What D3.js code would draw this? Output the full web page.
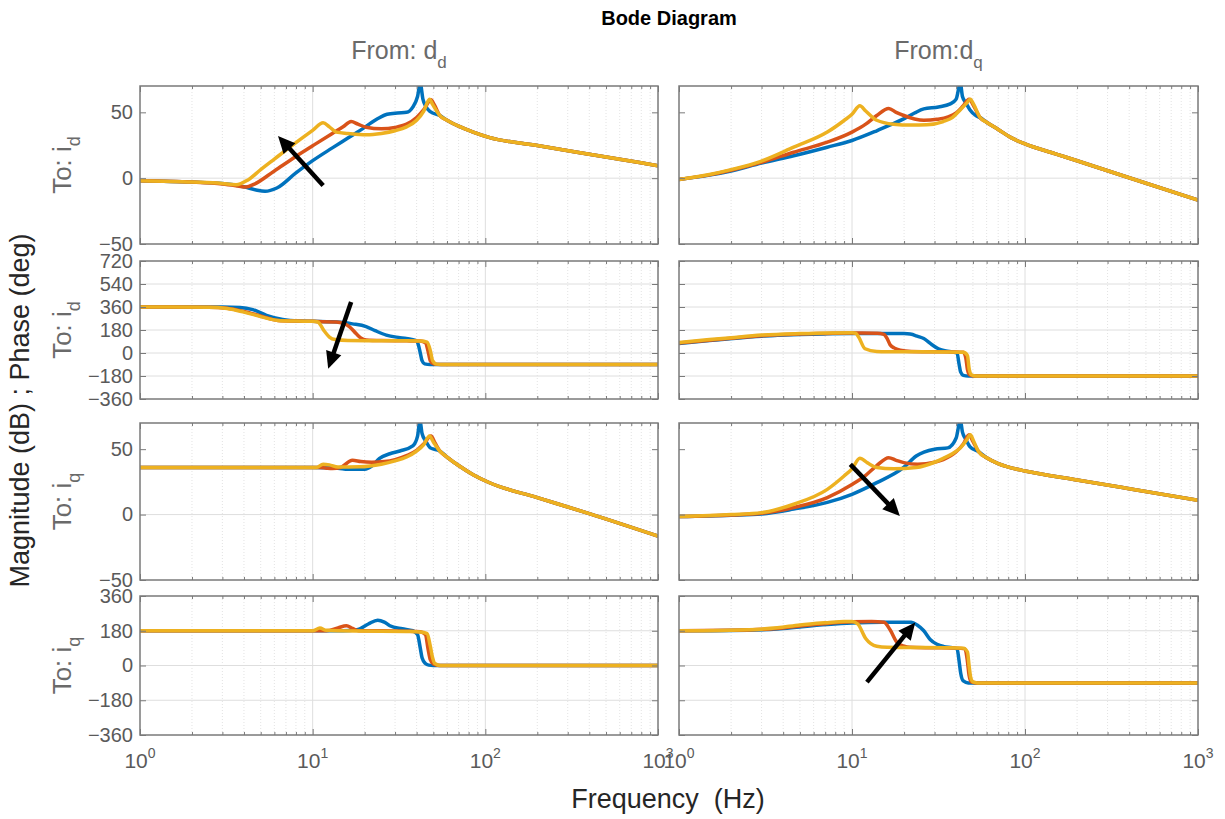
<!DOCTYPE html>
<html>
<head>
<meta charset="utf-8">
<script src="https://cdn.jsdelivr.net/npm/d3@7"></script>
<style>
  body { margin: 0; background: #fff; }
  text { font-family: "Liberation Sans", Arial, Helvetica, sans-serif; }
</style>
</head>
<body>
<div id="vis"></div>
<script>
// ---- data (frequency in Hz, magnitude in dB, phase in deg) ----
const seriesColors = ["#0072BD", "#D95319", "#EDB120"];
const freqTicks = [1, 10, 100, 1000];
const freqTickExp = ["0", "1", "2", "3"];
const magTicks = [-50, 0, 50];
const phaseTicksD = [-360, -180, 0, 180, 360, 540, 720];
const phaseTicksQ = [-360, -180, 0, 180, 360];
const colInputs = ["d", "q"];
const colTitles = ["From: d", "From:d"];
const rowTitles = ["To: i", "To: i", "To: i", "To: i"];
const rowSubs = ["d", "d", "q", "q"];

// From d_d -> i_d magnitude
const magIdDdBlue = [[1,-2],[2,-3],[3,-4],[4,-6.5],[4.7,-9],[5.3,-10],[6.2,-7.5],[8,4],[10,13.3],[13,23],[16,30.5],[20,38.6],[24,45.5],[27,48.5],[31,49.5],[35,50],[38,54],[40.5,62],[42,72],[43.5,60],[45,55],[48,50.5],[54.5,47.6],[60,44],[70,39.5],[85,35],[105,31],[200,24.8],[400,18.2],[1000,9.5]];
const magIdDdOrange = [[1,-2],[2,-3],[3,-4.5],[3.7,-6],[4.1,-6.8],[4.6,-4.5],[6,5.5],[8,16.5],[10,24.6],[13,34],[15,39],[16.7,43],[18.3,41],[20.4,38.7],[25,37.5],[30,38.5],[35,41],[40,46],[44,52],[48.5,59.5],[50.5,56],[54.5,47.6],[60,44],[70,39.5],[85,35],[105,31],[200,24.8],[400,18.2],[1000,9.5]];
const magIdDdYellow = [[1,-2],[2,-3],[3,-4],[3.6,-5],[4.2,-1.5],[5,6.5],[6,14.5],[8,27],[10,36.3],[11.5,42],[12.5,39],[13.7,35],[16,34],[20.4,33],[25,34],[30,36],[35,39],[40,44],[44,51],[47.5,60],[49.5,56],[54.5,47.6],[60,44],[70,39.5],[85,35],[105,31],[200,24.8],[400,18.2],[1000,9.5]];

// From d_d -> i_d phase
const phIdDdBlue = [[1,360],[3,360],[3.8,357],[4.5,340],[5.4,295],[6.7,262],[8.4,250],[10,248],[13,245],[15,238],[17,228],[20.4,207],[23,175],[26.7,140],[32,120],[38,105],[40,95],[41,60],[42,0],[43,-60],[44.5,-85],[48,-90],[1000,-90]];
const phIdDdOrange = [[1,360],[2.5,358],[3.2,350],[4,325],[5,290],[6.3,255],[8,250],[10,248],[13.7,242],[15,232],[16.3,207],[17.9,150],[19,118],[20.4,102],[25,97],[35,95],[42,93],[45,80],[46.5,20],[48,-60],[50,-85],[55,-90],[1000,-90]];
const phIdDdYellow = [[1,360],[2.5,358],[3.2,348],[4,320],[5,285],[6.3,255],[8,250],[10,248],[10.7,243],[11.7,170],[12.5,125],[13.5,105],[16,98],[25,96],[35,95],[42,93],[46,85],[48,20],[49.5,-60],[52,-87],[56,-90],[1000,-90]];

// From d_d -> i_q magnitude
const magIqDdBlue = [[1,36],[10,36],[14,35.5],[16,34.6],[20,34.6],[22,37],[24.4,43],[28,46.5],[32,48.6],[38,52.5],[40.5,60],[41.8,72],[43,62],[45.3,56],[48,51],[54.5,48.6],[60,44],[70,37.5],[85,30.5],[105,24.5],[200,13],[400,0.7],[1000,-16.5]];
const magIqDdOrange = [[1,36],[11,36],[12,35.5],[13,35.2],[14.5,36],[17,41.5],[19,40.5],[22,40],[26,40.5],[30,42],[35,45],[40,49],[44,54],[48.5,60],[51,55],[54.5,48.6],[60,44],[70,37.5],[85,30.5],[105,24.5],[200,13],[400,0.7],[1000,-16.5]];
const magIqDdYellow = [[1,36],[10.5,36],[11.5,38.5],[12.5,38],[14,36.3],[18.7,36.5],[25,38.5],[30,41],[35,44],[40,48.5],[44,53.5],[47.5,60],[50,55.5],[54.5,48.6],[60,44],[70,37.5],[85,30.5],[105,24.5],[200,13],[400,0.7],[1000,-16.5]];

// From d_d -> i_q phase
const phIqDdBlue = [[1,180],[15,180],[18,185],[21,215],[23.8,235],[26,225],[28,206],[33,190],[38,180],[40.5,160],[42,90],[43,40],[45,10],[47,2],[50,0],[1000,0]];
const phIqDdOrange = [[1,180],[12,180],[14,195],[15.7,206],[17,192],[18.5,180],[25,180],[35,178],[42,175],[45,160],[46.5,90],[48,30],[50,8],[54,0],[1000,0]];
const phIqDdYellow = [[1,180],[10,180],[11,194],[12,182],[14,180],[25,178],[35,176],[42,174],[46,165],[48,100],[49.5,40],[51,10],[55,0],[1000,0]];

// From d_q -> i_d magnitude
const magIdDqBlue = [[1,-1],[1.5,2.3],[2,5.5],[3,11.5],[4.6,17],[7.2,23.5],[10,28.6],[13.9,36],[17,41],[19.9,45],[23,49.5],[26,52.6],[31.6,54],[37,56.4],[40,60],[42.3,72],[43.5,62],[45.3,57.7],[48,52],[52,47.5],[55,46],[60,42.5],[70,37],[82.5,31],[100,26],[150,18.5],[200,13.2],[400,0.3],[1000,-16.6]];
const magIdDqOrange = [[1,-1],[1.5,2.5],[2,6],[3,12],[4.6,19.7],[7.2,27.3],[10,35],[12,41],[13.9,47.6],[16.3,53],[18,50],[19.9,47.6],[23,45],[26,44],[31,44.7],[36,46.5],[40,49.5],[44,55],[47.5,60],[50,56],[55,46],[60,42.5],[70,37],[82.5,31],[100,26],[150,18.5],[200,13.2],[400,0.3],[1000,-16.6]];
const magIdDqYellow = [[1,-1],[1.5,2.8],[2,6.5],[3,13],[4.6,23.5],[7.2,35],[9,43.8],[10,48.5],[11.1,55],[12,51],[13.9,44],[17.4,41],[22,40.3],[27,40.5],[33.7,43],[38,46],[42.3,52],[46,57],[48.3,60],[50.5,56],[55,46],[60,42.5],[70,37],[82.5,31],[100,26],[150,18.5],[200,13.2],[400,0.3],[1000,-16.6]];

// From d_q -> i_d phase
const phIdDqBlue = [[1,75],[1.5,97],[1.9,110],[3,132],[3.7,138],[5,145],[7.2,150],[10,152],[15,153],[20,152],[21.7,148],[24,130],[26,113],[29,65],[31.6,33],[35,15],[38,8],[40.5,0],[41.5,-80],[42.5,-150],[44,-175],[47,-180],[1000,-180]];
const phIdDqOrange = [[1,78],[1.5,100],[2,115],[3,135],[5,148],[7.2,153],[10,156],[14,155],[15.3,145],[16,110],[16.6,65],[17.5,40],[19,22],[22,12],[30,10],[40,8],[44,5],[45.5,-40],[46.5,-130],[48,-172],[51,-180],[1000,-180]];
const phIdDqYellow = [[1,82],[1.5,105],[2,120],[3,140],[5,152],[7.2,157],[10,158],[10.5,155],[10.9,127],[11.9,33],[13.9,12],[16,10],[25,9],[35,8],[44,6],[46.5,-20],[47.5,-120],[49,-170],[52,-180],[1000,-180]];

// From d_q -> i_q magnitude
const magIqDqBlue = [[1,-1.5],[2,-0.5],[3,0.5],[4.6,4.2],[7.2,9.3],[10,15.5],[13.9,24.4],[19.9,36],[23.5,44.8],[30,50],[35.8,51],[40,58.5],[42.3,72],[43.5,63],[45.3,58],[48,52],[54,48],[60,43.5],[70,39],[90,34.6],[100,33.3],[200,26.5],[400,19.8],[1000,11]];
const magIqDqOrange = [[1,-1.5],[2,-0.3],[3,1],[4.6,5.4],[7.2,13],[10,23],[12,30],[13.9,37.4],[16.3,43.5],[18,41.5],[19.9,39.7],[24,38.5],[30,40],[33.7,42],[40,48],[44,54],[47.5,61],[50,56],[54,48],[60,43.5],[70,39],[90,34.6],[100,33.3],[200,26.5],[400,19.8],[1000,11]];
const magIqDqYellow = [[1,-1.5],[2,0],[3,1.5],[4.6,7.9],[7.2,19.3],[9,29.5],[10,35],[11.1,43],[12.3,39.5],[13.9,36],[17.4,35],[23.5,36],[30,40],[33.7,43],[38,46.5],[42.3,51],[46,57],[48.3,61],[50.5,56],[54,48],[60,43.5],[70,39],[90,34.6],[100,33.3],[200,26.5],[400,19.8],[1000,11]];

// From d_q -> i_q phase
const phIqDqBlue = [[1,180],[2,181],[3.7,189],[5,200],[7.2,212],[10,220],[15,224],[22,224],[23.8,210],[26,180],[28.3,135],[31,110],[34,98],[38,92],[40.5,86],[41.5,30],[42.5,-40],[44,-80],[47,-90],[1000,-90]];
const phIqDqOrange = [[1,180],[2,182],[3.7,192],[5,205],[7.2,218],[10,226],[13,228],[15.3,224],[16.6,185],[18.2,120],[20,100],[21.6,94],[30,92],[40,90],[45,86],[46.5,20],[47.5,-50],[49,-85],[52,-90],[1000,-90]];
const phIqDqYellow = [[1,180],[2,183],[3.7,195],[5,210],[7.2,222],[9,228],[10,228],[10.8,215],[12,140],[13.9,100],[16,95],[25,93],[35,92],[44,90],[46.5,70],[47.5,0],[48.5,-60],[50,-85],[53,-90],[1000,-90]];

// annotation arrows: [tail, head] in data coordinates
const arrowMagIdDd = [[11.5, -5.5], [6.3, 32]];
const arrowPhIdDd = [[16.7, 399], [12.3, -123]];
const arrowMagIqDq = [[9.78, 38.4], [18.9, -1]];
const arrowPhIqDq = [[12.2, -86], [23.2, 223]];

// ---- layout ----
const width = 1225, height = 819;
const cols = [{ x0: 140, x1: 658 }, { x0: 679, x1: 1198 }];
const rows = [{ y0: 86, y1: 244 }, { y0: 261, y1: 399 }, { y0: 423, y1: 580 }, { y0: 596, y1: 735 }];

const panels = [
  { col: 0, row: 0, domain: [-50, 70], ticks: magTicks, series: [magIdDdBlue, magIdDdOrange, magIdDdYellow], arrow: arrowMagIdDd },
  { col: 0, row: 1, domain: [-360, 720], ticks: phaseTicksD, series: [phIdDdBlue, phIdDdOrange, phIdDdYellow], arrow: arrowPhIdDd },
  { col: 0, row: 2, domain: [-50, 70], ticks: magTicks, series: [magIqDdBlue, magIqDdOrange, magIqDdYellow] },
  { col: 0, row: 3, domain: [-360, 360], ticks: phaseTicksQ, series: [phIqDdBlue, phIqDdOrange, phIqDdYellow] },
  { col: 1, row: 0, domain: [-50, 70], ticks: magTicks, series: [magIdDqBlue, magIdDqOrange, magIdDqYellow] },
  { col: 1, row: 1, domain: [-360, 720], ticks: phaseTicksD, series: [phIdDqBlue, phIdDqOrange, phIdDqYellow] },
  { col: 1, row: 2, domain: [-50, 70], ticks: magTicks, series: [magIqDqBlue, magIqDqOrange, magIqDqYellow], arrow: arrowMagIqDq },
  { col: 1, row: 3, domain: [-360, 360], ticks: phaseTicksQ, series: [phIqDqBlue, phIqDqOrange, phIqDqYellow], arrow: arrowPhIqDq }
];

const minorFreqs = [1, 10, 100].flatMap(k => d3.range(2, 10).map(m => m * k));
const axisColor = "#7a7a7a";
const labelColor = "#5a5a5a";

const svg = d3.select("#vis").append("svg")
  .attr("width", width)
  .attr("height", height);

const defs = svg.append("defs");

panels.forEach((p, i) => {
  const c = cols[p.col], r = rows[p.row];
  const x = d3.scaleLog().domain([1, 1000]).range([c.x0, c.x1]);
  const y = d3.scaleLinear().domain(p.domain).range([r.y1, r.y0]);
  const g = svg.append("g");

  // grid: minor (dotted) and major
  g.append("g").selectAll("line").data(minorFreqs).join("line")
    .attr("x1", d => x(d)).attr("x2", d => x(d))
    .attr("y1", r.y0).attr("y2", r.y1)
    .attr("stroke", "#dcdcdc").attr("stroke-width", 0.8)
    .attr("stroke-dasharray", "1,2");
  g.append("g").selectAll("line").data(freqTicks.slice(1, -1)).join("line")
    .attr("x1", d => x(d)).attr("x2", d => x(d))
    .attr("y1", r.y0).attr("y2", r.y1)
    .attr("stroke", "#dedede").attr("stroke-width", 1);
  g.append("g").selectAll("line").data(p.ticks.slice(1, -1)).join("line")
    .attr("x1", c.x0).attr("x2", c.x1)
    .attr("y1", d => y(d)).attr("y2", d => y(d))
    .attr("stroke", "#dedede").attr("stroke-width", 1);

  // curves
  defs.append("clipPath").attr("id", "clip" + i)
    .append("rect")
    .attr("x", c.x0).attr("y", r.y0)
    .attr("width", c.x1 - c.x0).attr("height", r.y1 - r.y0);

  const line = d3.line()
    .x(d => x(d[0]))
    .y(d => y(d[1]))
    .curve(d3.curveMonotoneX);

  g.append("g").attr("clip-path", `url(#clip${i})`)
    .selectAll("path").data(p.series).join("path")
    .attr("d", line)
    .attr("fill", "none")
    .attr("stroke", (d, j) => seriesColors[j])
    .attr("stroke-width", 3.5)
    .attr("stroke-linejoin", "round");

  // inward ticks on all four sides
  const styleAxis = sel => {
    sel.select(".domain").remove();
    sel.selectAll("line").attr("stroke", axisColor);
  };
  g.append("g").attr("transform", `translate(0,${r.y1})`)
    .call(d3.axisTop(x).tickValues(freqTicks).tickSize(6).tickFormat(""))
    .call(styleAxis);
  g.append("g").attr("transform", `translate(0,${r.y1})`)
    .call(d3.axisTop(x).tickValues(minorFreqs).tickSize(3).tickFormat(""))
    .call(styleAxis);
  g.append("g").attr("transform", `translate(0,${r.y0})`)
    .call(d3.axisBottom(x).tickValues(freqTicks).tickSize(6).tickFormat(""))
    .call(styleAxis);
  g.append("g").attr("transform", `translate(0,${r.y0})`)
    .call(d3.axisBottom(x).tickValues(minorFreqs).tickSize(3).tickFormat(""))
    .call(styleAxis);
  g.append("g").attr("transform", `translate(${c.x0},0)`)
    .call(d3.axisRight(y).tickValues(p.ticks).tickSize(6).tickFormat(""))
    .call(styleAxis);
  g.append("g").attr("transform", `translate(${c.x1},0)`)
    .call(d3.axisLeft(y).tickValues(p.ticks).tickSize(6).tickFormat(""))
    .call(styleAxis);

  // box
  g.append("rect")
    .attr("x", c.x0).attr("y", r.y0)
    .attr("width", c.x1 - c.x0).attr("height", r.y1 - r.y0)
    .attr("fill", "none").attr("stroke", axisColor).attr("stroke-width", 1.5);

  // y tick labels on the left column
  if (p.col === 0) {
    g.append("g").attr("transform", `translate(${c.x0},0)`)
      .call(d3.axisLeft(y).tickValues(p.ticks).tickSize(0).tickPadding(7))
      .call(sel => {
        sel.select(".domain").remove();
        sel.selectAll("text")
          .attr("fill", labelColor)
          .style("font-size", "20px")
          .style("font-family", "'Liberation Sans', Arial, sans-serif");
      });
  }

  // x tick labels on the bottom row
  if (p.row === 3) {
    const lbl = g.append("g").selectAll("text").data(freqTicks).join("text")
      .attr("x", d => x(d))
      .attr("y", r.y1 + 33)
      .attr("text-anchor", "middle")
      .attr("fill", labelColor)
      .style("font-size", "21px");
    lbl.append("tspan").text("10");
    lbl.append("tspan").attr("dy", -10).style("font-size", "14px")
      .text((d, j) => freqTickExp[j]);
  }

  // arrow annotation
  if (p.arrow) {
    const [t, h] = p.arrow;
    const x1 = x(t[0]), y1 = y(t[1]), x2 = x(h[0]), y2 = y(h[1]);
    const len = Math.hypot(x2 - x1, y2 - y1);
    const ux = (x2 - x1) / len, uy = (y2 - y1) / len;
    const hl = 17, hw = 8;
    const bx = x2 - ux * hl, by = y2 - uy * hl;
    g.append("line")
      .attr("x1", x1).attr("y1", y1).attr("x2", bx + ux * 2).attr("y2", by + uy * 2)
      .attr("stroke", "#000").attr("stroke-width", 4.5);
    g.append("path")
      .attr("d", `M${x2},${y2}L${bx - uy * hw},${by + ux * hw}L${bx + uy * hw},${by - ux * hw}Z`)
      .attr("fill", "#000");
  }
});

// column titles (From: ...)
cols.forEach((c, j) => {
  const t = svg.append("text")
    .attr("x", (c.x0 + c.x1) / 2)
    .attr("y", 59)
    .attr("text-anchor", "middle")
    .attr("fill", "#6a6a6a")
    .style("font-size", "25px");
  t.append("tspan").text(colTitles[j]);
  t.append("tspan").attr("dy", 9).style("font-size", "17px").text(colInputs[j]);
});

// row titles (To: ...)
rows.forEach((r, j) => {
  const t = svg.append("text")
    .attr("transform", `translate(71,${(r.y0 + r.y1) / 2}) rotate(-90)`)
    .attr("text-anchor", "middle")
    .attr("fill", "#6a6a6a")
    .style("font-size", "26px");
  t.append("tspan").text(rowTitles[j]);
  t.append("tspan").attr("dy", 9).style("font-size", "18px").text(rowSubs[j]);
});

// overall labels
svg.append("text")
  .attr("x", (cols[0].x0 + cols[1].x1) / 2)
  .attr("y", 25)
  .attr("text-anchor", "middle")
  .attr("fill", "#000")
  .style("font-size", "20px")
  .style("font-weight", "bold")
  .text("Bode Diagram");

svg.append("text")
  .attr("x", 668)
  .attr("y", 808)
  .attr("text-anchor", "middle")
  .attr("fill", "#262626")
  .style("font-size", "27px")
  .style("white-space", "pre")
  .text("Frequency  (Hz)");

svg.append("text")
  .attr("transform", `translate(29,${(rows[0].y0 + rows[3].y1) / 2}) rotate(-90)`)
  .attr("text-anchor", "middle")
  .attr("fill", "#262626")
  .style("font-size", "27px")
  .text("Magnitude (dB) ; Phase (deg)");
</script>
</body>
</html>
